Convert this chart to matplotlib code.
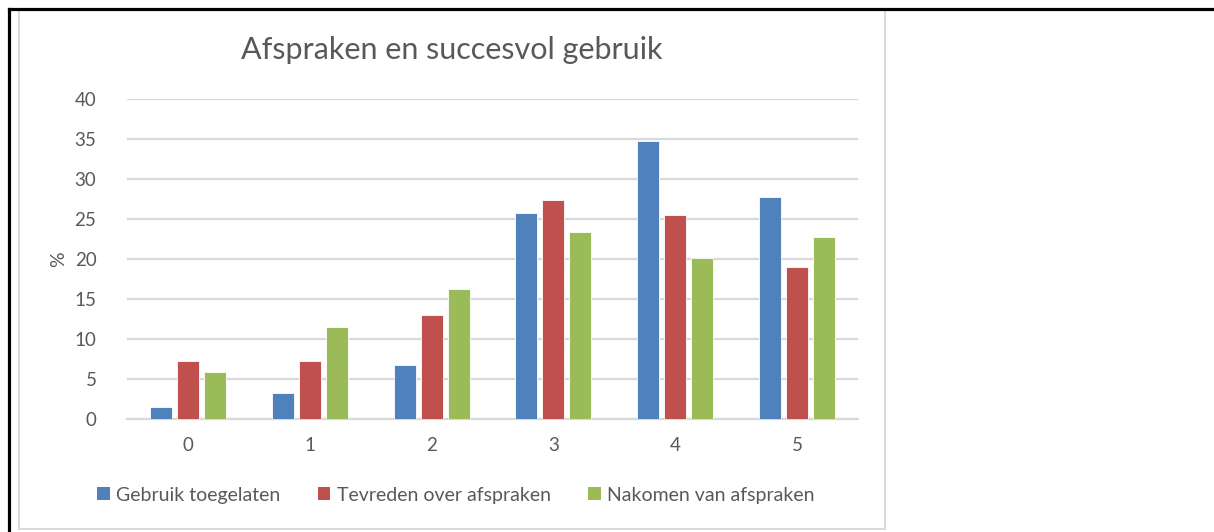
import matplotlib
matplotlib.use("Agg")
import matplotlib.pyplot as plt
import numpy as np
from matplotlib.patches import Rectangle, Patch
from matplotlib.lines import Line2D

plt.rcParams['font.family'] = ['Lato', 'DejaVu Sans']

categories = ["0", "1", "2", "3", "4", "5"]
series_names = ["Gebruik toegelaten", "Tevreden over afspraken", "Nakomen van afspraken"]
gebruik_toegelaten = [1.5, 3.3, 6.7, 25.8, 34.7, 27.8]
tevreden_over_afspraken = [7.3, 7.3, 13.0, 27.4, 25.5, 19.0]
nakomen_van_afspraken = [5.9, 11.5, 16.3, 23.4, 20.1, 22.8]
colors = ["#4f81bd", "#c0504d", "#9bbb59"]
y_ticks = [0, 5, 10, 15, 20, 25, 30, 35, 40]

W, H = 1214, 532
fig = plt.figure(figsize=(W / 100, H / 100), dpi=100)
fig.patch.set_facecolor("white")

# plot area
x0, x1 = 127, 858
ytop, ybot = 99, 419
ax = fig.add_axes([x0 / W, (H - ybot) / H, (x1 - x0) / W, (ybot - ytop) / H])

text_color = "#595959"
grid_color = "#d9d9d9"

x = np.arange(len(categories))
pitch = 0.222
width = 0.18
for i, (vals, c, name) in enumerate(zip(
        [gebruik_toegelaten, tevreden_over_afspraken, nakomen_van_afspraken], colors, series_names)):
    ax.bar(x + (i - 1) * pitch, vals, width=width, color=c, label=name, zorder=3,
           edgecolor="white", linewidth=0.6)

ax.set_xlim(-0.5, len(categories) - 0.5)
ax.set_ylim(0, 40)
ax.set_yticks(y_ticks)
ax.set_xticks(x)
ax.set_xticklabels(categories)
ax.yaxis.grid(True, color=grid_color, linewidth=1.6, zorder=0)
ax.set_axisbelow(True)
for s in ["top", "right", "left"]:
    ax.spines[s].set_visible(False)
ax.spines["bottom"].set_color(grid_color)
ax.spines["bottom"].set_linewidth(1.6)
ax.tick_params(axis="both", length=0, colors=text_color, labelsize=13.5)
ax.tick_params(axis="y", pad=22)
ax.tick_params(axis="x", pad=13)
ax.set_ylabel("%", color=text_color, fontsize=14, labelpad=5)
ax.patch.set_alpha(0)

# title
fig.text(452 / W, 1 - 50 / H, "Afspraken en succesvol gebruik", ha="center", va="center",
         fontsize=22, color=text_color)

# legend
handles = [Patch(facecolor=c, edgecolor="none") for c in colors]
fig.legend(handles, series_names, loc="center", bbox_to_anchor=(456 / W, 1 - 495 / H),
           ncol=3, frameon=False, fontsize=14, handlelength=0.65, handleheight=0.65,
           handletextpad=0.35, columnspacing=1.9, labelcolor=text_color)

# chart frame and outer border lines
fig.add_artist(Rectangle((18.5 / W, 1 - 529 / H), (885 - 18.5) / W, (529 - 10) / H,
                         transform=fig.transFigure, fill=False, edgecolor=grid_color, linewidth=1.4))
fig.add_artist(Line2D([8.5 / W, 1], [1 - 9 / H, 1 - 9 / H], transform=fig.transFigure,
                      color="black", linewidth=2.3))
fig.add_artist(Line2D([8.5 / W, 8.5 / W], [0, 1 - 9 / H], transform=fig.transFigure,
                      color="black", linewidth=2.3))

fig.savefig("out.png", dpi=100, facecolor="white")
